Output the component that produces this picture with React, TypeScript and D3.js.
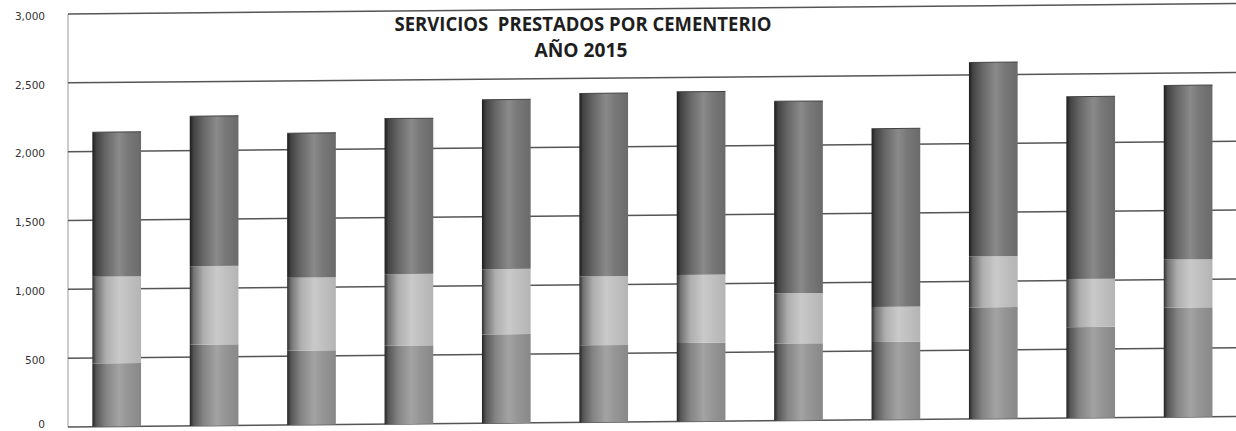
import React from "react";
import * as d3 from "d3";

const CATEGORIES = ["ENE", "FEB", "MAR", "ABR", "MAY", "JUN", "JUL", "AGO", "SEP", "OCT", "NOV", "DIC"];
const SERIES_KEYS = ["s1", "s2", "s3"];
const SERIES_1 = [460, 590, 540, 570, 645, 560, 570, 560, 565, 810, 660, 795];
const SERIES_2 = [630, 570, 530, 520, 475, 500, 495, 365, 255, 370, 350, 350];
const SERIES_3 = [1050, 1090, 1050, 1130, 1230, 1330, 1330, 1395, 1295, 1410, 1325, 1265];
const SERIES_COLORS = ["#8f8f8f", "#bdbdbd", "#707070"];
const Y_TICKS = [0, 500, 1000, 1500, 2000, 2500, 3000];
const TITLE_1 = "SERVICIOS  PRESTADOS POR CEMENTERIO";
const TITLE_2 = "AÑO 2015";

const W = 1236;
const H = 431;
const M = { left: 68, right: 0, top: 14, bottom: 4 };
const SKEW = -0.51;

export default function App() {
  const rows = CATEGORIES.map((c, i) => ({ cat: c, s1: SERIES_1[i], s2: SERIES_2[i], s3: SERIES_3[i] }));
  const stack = d3.stack<any>().keys(SERIES_KEYS);
  const layers = stack(rows);

  const x = d3
    .scaleBand<string>()
    .domain(CATEGORIES)
    .range([M.left, M.left + 12 * 97.4])
    .paddingInner(0.5)
    .paddingOuter(0.25);
  const y = d3.scaleLinear().domain([0, 3000]).range([H - M.bottom, M.top]);
  const fmt = d3.format(",");

  const mix = (a: string, b: string, t: number) => d3.interpolateRgb(a, b)(t);

  return (
    <svg
      width={W}
      height={H}
      style={{ position: "absolute", left: 0, top: 0, background: "#fff" }}
    >
      <defs>
        {SERIES_COLORS.map((c, i) => (
          <linearGradient key={i} id={`g${i}`} x1="0" x2="1" y1="0" y2="0">
            <stop offset="0%" stopColor={mix(c, "#000", 0.75)} />
            <stop offset="8%" stopColor={mix(c, "#000", 0.4)} />
            <stop offset="28%" stopColor={mix(c, "#000", 0.08)} />
            <stop offset="55%" stopColor={mix(c, "#fff", 0.18)} />
            <stop offset="72%" stopColor={mix(c, "#fff", 0.06)} />
            <stop offset="100%" stopColor={mix(c, "#000", 0.05)} />
          </linearGradient>
        ))}
      </defs>
      <g transform={`translate(${M.left},0) skewY(${SKEW}) translate(${-M.left},0)`}>
        <line x1={M.left} x2={M.left} y1={y(0)} y2={y(3000)} stroke="#9a9a9a" strokeWidth={1} />
        {Y_TICKS.map((t) => (
          <line
            key={t}
            x1={M.left}
            x2={W + 10}
            y1={y(t)}
            y2={y(t)}
            stroke="#555"
            strokeWidth={1.5}
          />
        ))}
        {layers.map((layer, li) =>
          layer.map((d: any, i: number) => (
            <rect
              key={`${li}-${i}`}
              x={x(CATEGORIES[i])}
              width={x.bandwidth()}
              y={y(d[1])}
              height={y(d[0]) - y(d[1])}
              fill={`url(#g${li})`}
            />
          ))
        )}
        {rows.map((r, i) => (
          <line
            key={`t${i}`}
            x1={x(r.cat)}
            x2={(x(r.cat) as number) + x.bandwidth()}
            y1={y(r.s1 + r.s2 + r.s3)}
            y2={y(r.s1 + r.s2 + r.s3)}
            stroke="#444"
            strokeWidth={1}
          />
        ))}
      </g>
      {Y_TICKS.map((t) => (
        <text
          key={`l${t}`}
          x={45}
          y={Math.min(y(t) + 2, H - 7)}
          dy="0.35em"
          textAnchor="end"
          fontFamily="DejaVu Sans, Verdana, sans-serif"
          fontSize={10.5}
          fill="#333"
        >
          {fmt(t)}
        </text>
      ))}
      <text
        x={583}
        y={31}
        textAnchor="middle"
        fontFamily="'Open Sans', Lato, sans-serif"
        fontWeight={700}
        fontSize={19}
        fill="#1e1e1e"
        textLength={377}
        lengthAdjust="spacingAndGlyphs"
        style={{ whiteSpace: "pre" }}
      >
        {TITLE_1}
      </text>
      <text
        x={581}
        y={57}
        textAnchor="middle"
        fontFamily="'Open Sans', Lato, sans-serif"
        fontWeight={700}
        fontSize={19}
        fill="#1e1e1e"
        textLength={93}
        lengthAdjust="spacingAndGlyphs"
      >
        {TITLE_2}
      </text>
    </svg>
  );
}
